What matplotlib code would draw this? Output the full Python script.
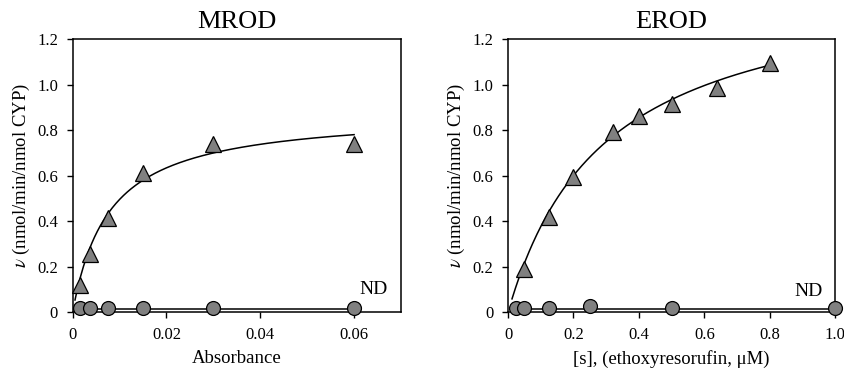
import numpy as np
import matplotlib
matplotlib.use("Agg")
import matplotlib.pyplot as plt

plt.rcParams['font.family'] = ['Liberation Serif', 'DejaVu Serif']
plt.rcParams['mathtext.fontset'] = 'stix'

# ---- data ----
mrod_x = [0.0015, 0.00375, 0.0075, 0.015, 0.03, 0.06]
mrod_tri = [0.12, 0.255, 0.415, 0.61, 0.738, 0.738]
mrod_circ = [0.018, 0.018, 0.018, 0.018, 0.018, 0.018]
mrod_vmax, mrod_km = 0.881, 0.0078
mrod_circ_line = 0.014

erod_tri_x = [0.05, 0.125, 0.2, 0.32, 0.4, 0.5, 0.64, 0.8]
erod_tri = [0.188, 0.419, 0.595, 0.793, 0.862, 0.913, 0.983, 1.093]
erod_circ_x = [0.025, 0.05, 0.125, 0.25, 0.5, 1.0]
erod_circ = [0.018, 0.018, 0.018, 0.026, 0.018, 0.018]
erod_vmax, erod_km = 1.485, 0.295
erod_circ_line = 0.014

titles = ["MROD", "EROD"]
xlabels = ["Absorbance", "[s], (ethoxyresorufin, μM)"]
ylabel = r"$\it{\nu}$ (nmol/min/nmol CYP)"
yticks = [0, 0.2, 0.4, 0.6, 0.8, 1.0, 1.2]
ytick_labels = ["0", "0.2", "0.4", "0.6", "0.8", "1.0", "1.2"]
mrod_xticks = [0, 0.02, 0.04, 0.06]
mrod_xtick_labels = ["0", "0.02", "0.04", "0.06"]
erod_xticks = [0, 0.2, 0.4, 0.6, 0.8, 1.0]
erod_xtick_labels = ["0", "0.2", "0.4", "0.6", "0.8", "1.0"]

fig = plt.figure(figsize=(8.44, 3.68), dpi=100)
ax1 = fig.add_axes([0.0861, 0.152, 0.389, 0.742])
ax2 = fig.add_axes([0.602, 0.152, 0.3875, 0.742])

gray = '#808080'
tri_kw = dict(marker='^', ms=11, mfc=gray, mec='black', mew=0.9, ls='none', clip_on=False, zorder=4)
circ_kw = dict(marker='o', ms=10, mfc=gray, mec='black', mew=0.9, ls='none', clip_on=False, zorder=4)

# MROD
xs = np.linspace(0.0005, mrod_x[-1], 300)
ax1.plot(xs, mrod_vmax * xs / (mrod_km + xs), color='black', lw=1.1, zorder=3)
ax1.plot([mrod_x[0], mrod_x[-1]], [mrod_circ_line, mrod_circ_line], color='black', lw=1.1, zorder=3)
ax1.plot(mrod_x, mrod_tri, **tri_kw)
ax1.plot(mrod_x, mrod_circ, **circ_kw)
ax1.set_xlim(0, 0.07)
ax1.set_xticks(mrod_xticks)
ax1.set_xticklabels(mrod_xtick_labels)
ax1.text(0.0642, 0.097, "ND", ha='center', va='center', fontsize=14)

# EROD
xs2 = np.linspace(0.012, erod_tri_x[-1], 300)
ax2.plot(xs2, erod_vmax * xs2 / (erod_km + xs2), color='black', lw=1.1, zorder=3)
ax2.plot([erod_circ_x[0], erod_circ_x[-1]], [erod_circ_line, erod_circ_line], color='black', lw=1.1, zorder=3)
ax2.plot(erod_tri_x, erod_tri, **tri_kw)
ax2.plot(erod_circ_x, erod_circ, **circ_kw)
ax2.set_xlim(0, 1.0)
ax2.set_xticks(erod_xticks)
ax2.set_xticklabels(erod_xtick_labels)
ax2.text(0.92, 0.089, "ND", ha='center', va='center', fontsize=14)

for ax, t, xl in zip([ax1, ax2], titles, xlabels):
    ax.set_ylim(0, 1.2)
    ax.set_yticks(yticks)
    ax.set_yticklabels(ytick_labels)
    ax.set_title(t, fontsize=19, pad=8)
    ax.set_xlabel(xl, fontsize=13.5, labelpad=5)
    ax.set_ylabel(ylabel, fontsize=13.5, labelpad=4)
    ax.tick_params(direction='out', length=4.5, width=1.0, labelsize=12, pad=6)
    for s in ax.spines.values():
        s.set_linewidth(1.1)

fig.savefig("out.png", dpi=100)
